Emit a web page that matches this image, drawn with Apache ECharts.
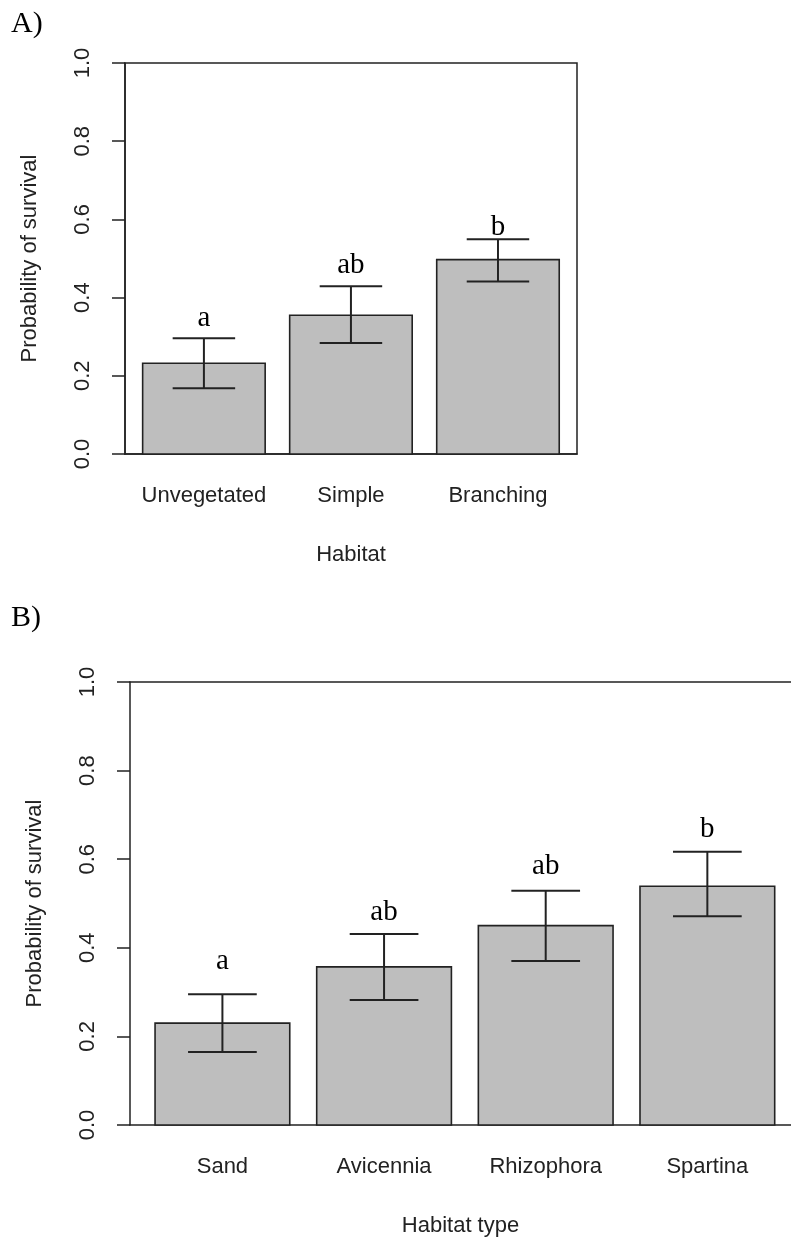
<!DOCTYPE html>
<html>
<head>
<meta charset="utf-8">
<script src="https://cdn.jsdelivr.net/npm/echarts@6/dist/echarts.min.js"></script>
<style>
  html, body { margin: 0; padding: 0; background: #fff; }
  #chart { width: 791px; height: 1239px; }
</style>
</head>
<body>
<div id="chart"></div>
<script>
// Panel A: survival by habitat structure
const habitatA = ['Unvegetated', 'Simple', 'Branching'];
const meanA    = [0.232, 0.355, 0.497];
const lowerA   = [0.168, 0.284, 0.441];
const upperA   = [0.296, 0.429, 0.549];
const lettersA = ['a', 'ab', 'b'];
const letterYA = [0.330, 0.466, 0.564];   // baseline of each group letter (data units)

// Panel B: survival by habitat type
const habitatB = ['Sand', 'Avicennia', 'Rhizophora', 'Spartina'];
const meanB    = [0.230, 0.357, 0.450, 0.539];
const lowerB   = [0.165, 0.282, 0.370, 0.471];
const upperB   = [0.295, 0.431, 0.529, 0.617];
const lettersB = ['a', 'ab', 'ab', 'b'];
const letterYB = [0.354, 0.465, 0.570, 0.652];

const yTickStep = 0.2;

// barplot layout: unit-width bars separated by 0.2
const BAR_W = 1, BAR_SPACE = 0.2, CAP = 0.255;
const centerOf = i => BAR_SPACE + BAR_W / 2 + i * (BAR_W + BAR_SPACE);

const INK = '#222';
const SANS = '"Liberation Sans", Arial, sans-serif';
const SERIF = '"Liberation Serif", "Times New Roman", serif';
const FS = 22;

function rows(mean, lo, hi, ly) {
  return mean.map((m, i) => [centerOf(i), m, lo[i], hi[i], ly[i]]);
}

function barRenderer(letters) {
  return function (params, api) {
    const x = api.value(0), m = api.value(1), lo = api.value(2), hi = api.value(3), ly = api.value(4);
    const tl = api.coord([x - BAR_W / 2, m]);
    const br = api.coord([x + BAR_W / 2, 0]);
    const pHi = api.coord([x, hi]);
    const pLo = api.coord([x, lo]);
    const cl = api.coord([x - CAP, hi])[0];
    const cr = api.coord([x + CAP, hi])[0];
    const pt = api.coord([x, ly]);
    const ln = { stroke: INK, lineWidth: 2 };
    return {
      type: 'group',
      children: [
        { type: 'rect', shape: { x: tl[0], y: tl[1], width: br[0] - tl[0], height: br[1] - tl[1] },
          style: { fill: '#bebebe', stroke: INK, lineWidth: 1.6 } },
        { type: 'line', shape: { x1: pHi[0], y1: pHi[1], x2: pLo[0], y2: pLo[1] }, style: ln },
        { type: 'line', shape: { x1: cl, y1: pHi[1], x2: cr, y2: pHi[1] }, style: ln },
        { type: 'line', shape: { x1: cl, y1: pLo[1], x2: cr, y2: pLo[1] }, style: ln },
        { type: 'text', x: pt[0], y: pt[1] + 8,
          style: { text: letters[params.dataIndex], font: '29px ' + SERIF, fill: '#000',
                   align: 'center', verticalAlign: 'bottom',
                   textAlign: 'center', textVerticalAlign: 'bottom' } }
      ]
    };
  };
}

function xAxisFor(gridIndex, cats, min, max, name) {
  return {
    type: 'value', gridIndex, min, max, name,
    nameLocation: 'middle', nameGap: 90,
    nameTextStyle: { fontFamily: SANS, fontSize: FS, color: INK },
    axisLine: { show: true, onZero: false, lineStyle: { color: INK, width: 1.5 } },
    axisTick: { show: false },
    splitLine: { show: false },
    axisLabel: {
      customValues: cats.map((c, i) => centerOf(i)),
      formatter: v => cats[Math.round((v - centerOf(0)) / (BAR_W + BAR_SPACE))],
      margin: 31, fontFamily: SANS, fontSize: FS, color: INK
    }
  };
}

// plain frame line along the top of a panel
function topFrame(gridIndex, min, max) {
  return {
    type: 'value', gridIndex, min, max, position: 'top',
    axisLine: { show: true, onZero: false, lineStyle: { color: INK, width: 1.5 } },
    axisTick: { show: false }, axisLabel: { show: false }, splitLine: { show: false }
  };
}

function yAxisFor(gridIndex) {
  return {
    type: 'value', gridIndex, min: 0, max: 1, interval: yTickStep,
    name: 'Probability of survival', nameLocation: 'middle', nameGap: 84, nameRotate: 90,
    nameTextStyle: { fontFamily: SANS, fontSize: FS, color: INK },
    axisLine: { show: true, lineStyle: { color: INK, width: 1.5 } },
    axisTick: { show: true, length: 13, lineStyle: { color: INK, width: 1.5 } },
    splitLine: { show: false },
    axisLabel: { rotate: 90, margin: 31, fontFamily: SANS, fontSize: FS, color: INK,
                 formatter: v => v.toFixed(1) }
  };
}

const chart = echarts.init(document.getElementById('chart'), null, { renderer: 'canvas' });
chart.setOption({
  backgroundColor: '#fff',
  animation: false,
  title: [
    { text: 'A)', left: 11, top: 9, padding: 0,
      textStyle: { fontFamily: SERIF, fontSize: 30, fontWeight: 'normal', color: '#000' } },
    { text: 'B)', left: 11, top: 603, padding: 0,
      textStyle: { fontFamily: SERIF, fontSize: 30, fontWeight: 'normal', color: '#000' } }
  ],
  grid: [
    { left: 125, top: 63, width: 452, height: 391, show: true, borderColor: INK, borderWidth: 1.5 },
    // panel B runs past the right edge of the page, so its frame has no right side
    { left: 130, top: 682, width: 661, height: 443, show: false }
  ],
  xAxis: [
    xAxisFor(0, habitatA, 0.056, 3.745, 'Habitat'),
    xAxisFor(1, habitatB, 0.014, 4.921, 'Habitat type'),
    topFrame(1, 0.014, 4.921)
  ],
  yAxis: [yAxisFor(0), yAxisFor(1)],
  series: [
    { type: 'custom', xAxisIndex: 0, yAxisIndex: 0, clip: false,
      encode: { x: 0, y: [1, 2, 3, 4] },
      renderItem: barRenderer(lettersA), data: rows(meanA, lowerA, upperA, letterYA) },
    { type: 'custom', xAxisIndex: 1, yAxisIndex: 1, clip: false,
      encode: { x: 0, y: [1, 2, 3, 4] },
      renderItem: barRenderer(lettersB), data: rows(meanB, lowerB, upperB, letterYB) }
  ]
});
</script>
</body>
</html>
